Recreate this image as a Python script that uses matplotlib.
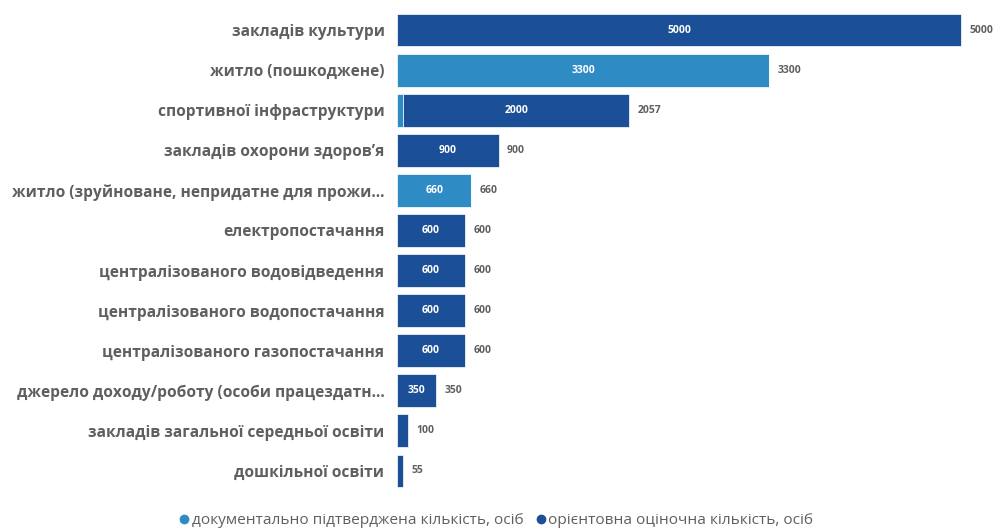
import matplotlib.pyplot as plt

categories = [
    "закладів культури",
    "житло (пошкоджене)",
    "спортивної інфраструктури",
    "закладів охорони здоров\u2019я",
    "житло (зруйноване, непридатне для прожи...",
    "електропостачання",
    "централізованого водовідведення",
    "централізованого водопостачання",
    "централізованого газопостачання",
    "джерело доходу/роботу (особи працездатн...",
    "закладів загальної середньої освіти",
    "дошкільної освіти",
]
confirmed = [0, 3300, 57, 0, 660, 0, 0, 0, 0, 0, 0, 0]
estimated = [5000, 0, 2000, 900, 0, 600, 600, 600, 600, 350, 100, 55]
series_names = ["документально підтверджена кількість, осіб",
                "орієнтовна оціночна кількість, осіб"]

light = "#2f8bc4"
dark = "#1b4f97"
grey = "#5f5f5f"

plt.rcParams['font.family'] = ['Open Sans', 'DejaVu Sans']

fig = plt.figure(figsize=(9.93, 5.31), dpi=100)
ax = fig.add_axes([397 / 993, 1 - 491 / 531, 596 / 993, 481 / 531])

y = list(range(len(categories)))
ax.barh(y, confirmed, height=0.82, color=light, edgecolor="#ffffff", linewidth=0.5)
ax.barh(y, estimated, left=confirmed, height=0.82, color=dark, edgecolor="#ffffff", linewidth=0.5)

ax.set_xlim(0, 596 / 564 * 5000)
ax.set_ylim(len(categories) - 0.5, -0.5)

for i in y:
    c, e = confirmed[i], estimated[i]
    total = c + e
    if c >= 300:
        ax.text(c / 2, i, str(c), ha="center", va="center", color="white",
                fontsize=7.5, fontweight="bold")
    if e >= 300:
        ax.text(c + e / 2, i, str(e), ha="center", va="center", color="white",
                fontsize=7.5, fontweight="bold")
    ax.text(total + 75, i, str(total), ha="left", va="center", color=grey,
            fontsize=7.5, fontweight="bold")

ax.set_yticks(y)
ax.set_yticklabels(categories, fontsize=11.2, fontweight="bold", color=grey)
ax.tick_params(axis="y", length=0, pad=9)
ax.set_xticks([])
for s in ax.spines.values():
    s.set_visible(False)

handles = [plt.Line2D([], [], marker="o", ls="", color=light, markersize=6),
           plt.Line2D([], [], marker="o", ls="", color=dark, markersize=6)]
fig.legend(handles, series_names, loc="center", bbox_to_anchor=(495 / 993, 1 - 521 / 531),
           ncol=2, frameon=False, fontsize=11.1, labelcolor=grey,
           handletextpad=0.0, columnspacing=0.6, handlelength=1.0)

fig.savefig("out.png", dpi=100, facecolor="white")
